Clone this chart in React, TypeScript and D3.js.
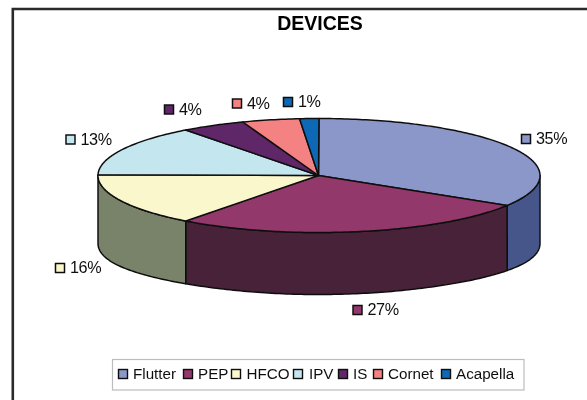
import React from "react";
import * as d3 from "d3";

const categories = ["Flutter", "PEP", "HFCO", "IPV", "IS", "Cornet", "Acapella"];
const percentLabels = ["35%", "27%", "16%", "13%", "4%", "4%", "1%"];
// slice sizes as drawn in the picture (perspective squeezes them compared to the labels)
const drawnShares = [33.8, 26.5, 14.9, 14.5, 4.7, 4.2, 1.4];
const topColors = ["#8b96c9", "#93386a", "#fbf7cd", "#c3e6ef", "#5f2568", "#f48283", "#0f69b5"];
const sideColors = ["#46578a", "#472038", "#78836a", "#78836a", "#472038", "#f48283", "#0f69b5"];
const labelAnchors: [number, number][] = [
  [526, 139], [357.5, 310], [60, 268], [70.5, 139.5], [169, 109.5], [237, 103.5], [288, 102],
];

const W = 587, H = 400;
const cx = 319, cy = 175.5, rx = 221, ry = 57;

const pt = (a: number, lower = false): [number, number] => {
  const s = Math.sin(a);
  const depth = lower ? 62 + 6 * s * s * s * s : 0;
  return [cx + rx * s, cy - ry * Math.cos(a) + depth];
};
const line = d3.line<[number, number]>();
const arcPts = (a0: number, a1: number, lower = false) => {
  const n = Math.max(2, Math.ceil(Math.abs(a1 - a0) * 60));
  return d3.range(n + 1).map((i) => pt(a0 + ((a1 - a0) * i) / n, lower));
};

export default function App() {
  const pie = d3.pie<number>().sort(null)(drawnShares);
  const lo = Math.PI / 2, hi = (3 * Math.PI) / 2;
  const stroke = "#111";
  const font = "Liberation Sans, Arial, sans-serif";
  const legendXs = [118, 183, 231, 293, 338, 373, 441];
  const legendTextXs = [133, 198, 246.5, 309, 353, 388, 456];
  return (
    <svg width={W} height={H} style={{ position: "fixed", left: 0, top: 0, background: "#fff" }}>
      <defs>
        <filter id="soft" x="-2%" y="-2%" width="104%" height="104%">
          <feGaussianBlur stdDeviation="0.45" />
        </filter>
      </defs>
      <g filter="url(#soft)">
        <path d="M12.8 400V9H587" fill="none" stroke="#2b2b2b" strokeWidth={2.6} />
        <text x={320} y={30} textAnchor="middle" fontFamily={font} fontWeight="bold" fontSize={19.5} fill="#000">DEVICES</text>

        {pie.map((s, i) => {
          const a0 = Math.max(s.startAngle, lo), a1 = Math.min(s.endAngle, hi);
          if (a1 <= a0) return null;
          const top = arcPts(a0, a1);
          const bot = arcPts(a1, a0, true);
          return <path key={"side" + i} d={line([...top, ...bot])! + "Z"} fill={sideColors[i]} stroke={stroke} strokeWidth={1.5} strokeLinejoin="round" />;
        })}
        {pie.map((s, i) => (
          <path key={"top" + i} d={line([[cx - 0.5, cy], ...arcPts(s.startAngle, s.endAngle)])! + "Z"} fill={topColors[i]} stroke={stroke} strokeWidth={1.5} strokeLinejoin="round" />
        ))}

        {percentLabels.map((t, i) => (
          <g key={t + i}>
            <rect x={labelAnchors[i][0] - 4.5} y={labelAnchors[i][1] - 4.5} width={9} height={9} fill={topColors[i]} stroke="#111" strokeWidth={1.5} />
            <text x={labelAnchors[i][0] + 10} y={labelAnchors[i][1] + 5} fontFamily={font} fontSize={16.2} letterSpacing={-0.4} fill="#111">{t}</text>
          </g>
        ))}

        <rect x={112.5} y={359.5} width={411.5} height={30.5} fill="#fff" stroke="#bdbdbd" strokeWidth={1.2} />
        {categories.map((c, i) => (
          <g key={c}>
            <rect x={legendXs[i] + 0.5} y={369.5} width={9} height={9} fill={topColors[i]} stroke="#111" strokeWidth={1.4} />
            <text x={legendTextXs[i]} y={379} fontFamily={font} fontSize={15.2} fill="#111">{c}</text>
          </g>
        ))}
      </g>
    </svg>
  );
}
